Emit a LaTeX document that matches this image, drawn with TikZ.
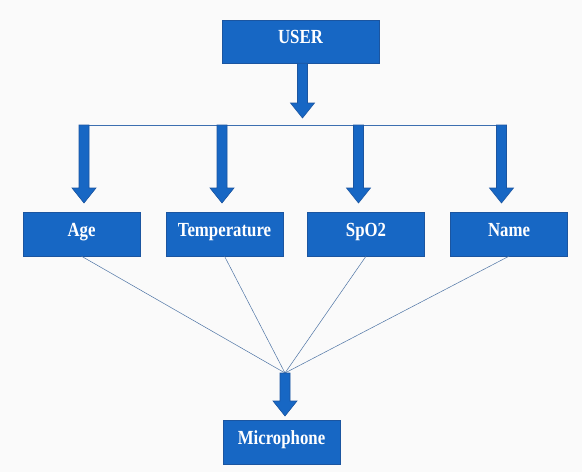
\documentclass[tikz,border=0pt]{standalone}
\usepackage{fontspec}
\setmainfont{Liberation Serif}
\newfontfamily\boxfont[FakeStretch=0.84]{Liberation Serif}
\usetikzlibrary{calc}
\definecolor{boxblue}{HTML}{1767C4}
\definecolor{edgeblue}{HTML}{1B55A0}
\definecolor{wireblue}{HTML}{3C6FB0}
\definecolor{paper}{HTML}{FAFAFA}
\colorlet{linkc}{wireblue!75!gray}
\tikzset{box/.style={rectangle,draw=edgeblue,fill=boxblue,text=white,
    font=\boxfont\fontsize{20}{24}\selectfont\bfseries,minimum width=117pt,minimum height=44pt,
    inner sep=0pt,text height=11pt,text depth=7pt},
  barrow/.style={draw=edgeblue,fill=boxblue,line width=0.6pt},
  bus/.style={draw=wireblue,line width=0.8pt},
  link/.style={draw=linkc,line width=0.5pt}}
\newcommand{\blockarrow}[2]{%
  \draw[barrow] let \p1=(#1),\p2=(#2) in
    (\x2-5pt,\y1)--(\x2-5pt,\y2+15pt)--(\x2-12pt,\y2+15pt)--(\x2,\y2)
    --(\x2+12pt,\y2+15pt)--(\x2+5pt,\y2+15pt)--(\x2+5pt,\y1)--cycle;}
\begin{document}
\begin{tikzpicture}[x=1pt,y=-1pt]
\fill[paper] (0,0) rectangle (582,472);
\useasboundingbox (0,0) rectangle (582,472);
\node[box,minimum width=157pt,minimum height=43pt] (user) at (300.5,41.5) {USER};
\node[box] (age) at (81.5,234) {Age};
\node[box] (temp) at (224.5,234) {Temperature};
\node[box] (spo) at (366,234) {SpO2};
\node[box] (name) at (509,234) {Name};
\node[box] (mic) at (281.5,442) {Microphone};
\coordinate (busl) at (84,125);\coordinate (busr) at (501.5,125);
\coordinate (hub) at (285,373);
\coordinate (usertip) at (302.5,118);
\coordinate (agetip) at (84,203);\coordinate (temptip) at (222,203);
\coordinate (spotip) at (358.5,203);\coordinate (nametip) at (501.5,203);
\coordinate (mictip) at (285,416);
\draw[bus] (busl)--(busr);
\foreach \n in {age,temp,spo,name} \draw[link] (\n.south)--(hub);
\blockarrow{user.south}{usertip}
\foreach \t in {agetip,temptip,spotip,nametip} {\blockarrow{busl}{\t}}
\blockarrow{hub}{mictip}
\end{tikzpicture}
\end{document}
